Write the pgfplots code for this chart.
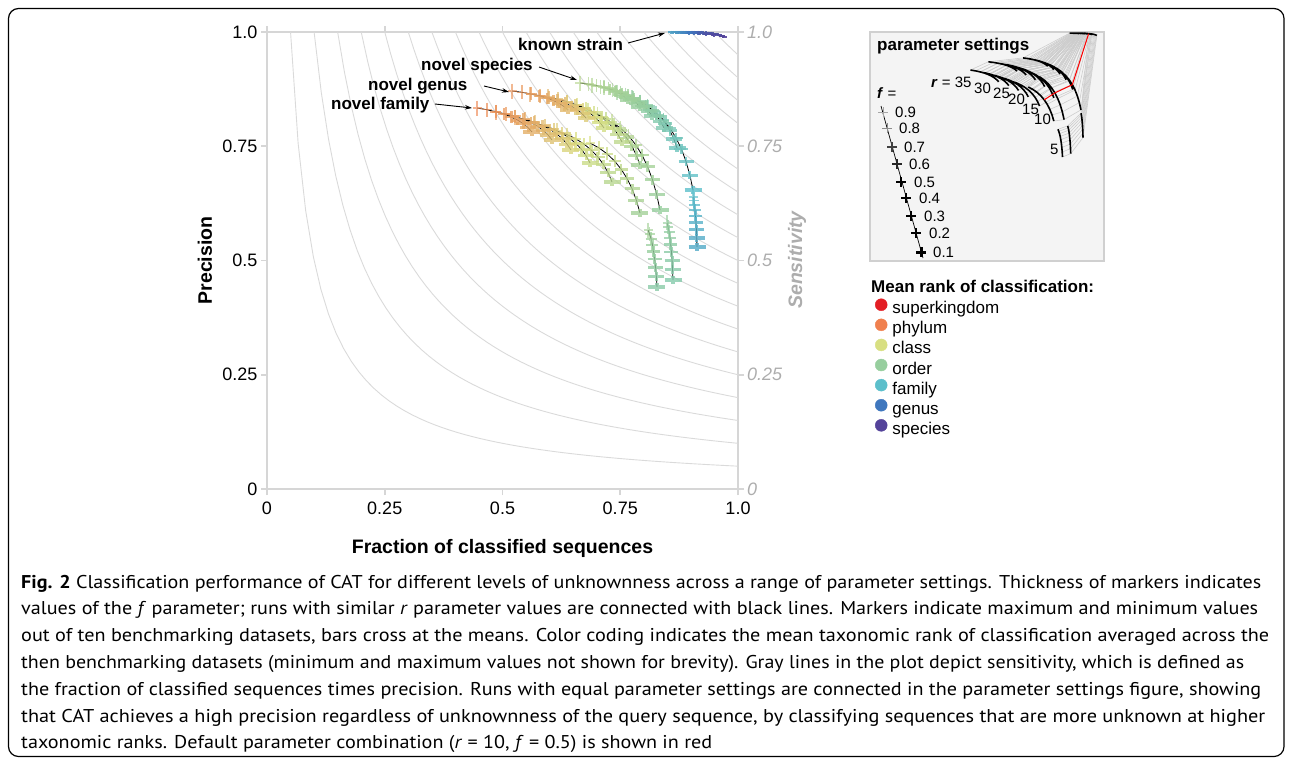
\documentclass[border=0pt]{standalone}
\usepackage{fontspec}
\setmainfont{Liberation Sans}
\newfontfamily\capfont{PT Sans}
\usepackage{graphicx}
\usepackage{pgfplots}
\pgfplotsset{compat=1.18}
\usepackage{pgfplotstable}
\usetikzlibrary{arrows.meta}
\newcommand\fs[1]{\fontsize{#1}{#1}\selectfont}
\definecolor{axgray}{HTML}{D6D6D6}
\definecolor{isogray}{HTML}{DADADA}
\definecolor{sensgray}{HTML}{ADADAD}
\definecolor{insetfill}{HTML}{F4F4F4}
\definecolor{insetdraw}{HTML}{D0D0D0}
\definecolor{connect}{HTML}{CDCDCD}
\definecolor{cSK}{RGB}{227,30,36}
\definecolor{cPH}{RGB}{240,128,79}
\definecolor{cCL}{RGB}{216,223,130}
\definecolor{cOR}{RGB}{151,206,158}
\definecolor{cFA}{RGB}{92,191,203}
\definecolor{cGE}{RGB}{63,119,190}
\definecolor{cSP}{RGB}{84,67,154}

% r, f, then for each level of unknownness (F novel family, G novel genus,
% S novel species, K known strain): fraction classified, precision, mean rank
\pgfplotstableread{
r f xF yF mF xG yG mG xS yS mS xK yK mK
35 0.9 .4459 .8337 2.10 .5202 .8709 2.20 .6645 .8884 3.50 .8577 1.0000 5.40
35 0.8 .4669 .8300 2.15 .5416 .8680 2.25 .6828 .8858 3.55 .8627 1.0000 5.45
35 0.7 .4860 .8255 2.20 .5611 .8644 2.30 .6996 .8826 3.60 .8672 .9998 5.50
35 0.6 .5033 .8202 2.25 .5787 .8602 2.35 .7147 .8788 3.65 .8713 .9997 5.55
35 0.5 .5188 .8140 2.30 .5945 .8553 2.40 .7283 .8744 3.70 .8750 .9996 5.60
35 0.4 .5325 .8070 2.35 .6084 .8498 2.45 .7402 .8695 3.75 .8783 .9994 5.65
35 0.3 .5444 .7992 2.40 .6205 .8436 2.50 .7506 .8640 3.80 .8811 .9993 5.70
35 0.2 .5544 .7906 2.45 .6307 .8368 2.55 .7593 .8579 3.85 .8835 .9991 5.75
35 0.1 .5626 .7812 2.50 .6391 .8293 2.60 .7665 .8512 3.90 .8854 .9989 5.80
nan nan nan nan nan nan nan nan nan nan nan nan nan nan
30 0.9 .4862 .8249 2.20 .5584 .8643 2.40 .6900 .8840 3.60 .8684 1.0000 5.60
30 0.8 .5076 .8206 2.26 .5798 .8606 2.45 .7083 .8806 3.65 .8734 .9998 5.65
30 0.7 .5271 .8153 2.33 .5993 .8561 2.50 .7250 .8765 3.70 .8779 .9997 5.70
30 0.6 .5447 .8091 2.39 .6169 .8508 2.55 .7402 .8716 3.75 .8820 .9994 5.75
30 0.5 .5605 .8019 2.45 .6327 .8446 2.60 .7537 .8660 3.80 .8857 .9992 5.80
30 0.4 .5744 .7938 2.51 .6466 .8376 2.65 .7656 .8596 3.85 .8889 .9989 5.85
30 0.3 .5865 .7847 2.58 .6587 .8298 2.70 .7760 .8524 3.90 .8917 .9986 5.90
30 0.2 .5967 .7747 2.64 .6689 .8212 2.75 .7847 .8445 3.95 .8941 .9982 5.95
30 0.1 .6051 .7637 2.70 .6773 .8118 2.80 .7919 .8359 4.00 .8960 .9978 6.00
nan nan nan nan nan nan nan nan nan nan nan nan nan nan
25 0.9 .5265 .8140 2.40 .5966 .8578 2.60 .7155 .8775 3.70 .8790 1.0000 5.80
25 0.8 .5479 .8089 2.46 .6180 .8530 2.66 .7338 .8732 3.76 .8840 .9998 5.85
25 0.7 .5674 .8027 2.53 .6375 .8472 2.73 .7505 .8679 3.83 .8885 .9997 5.90
25 0.6 .5850 .7954 2.59 .6551 .8403 2.79 .7657 .8617 3.89 .8926 .9994 5.95
25 0.5 .6008 .7869 2.65 .6709 .8323 2.85 .7792 .8545 3.95 .8963 .9992 6.00
25 0.4 .6147 .7773 2.71 .6848 .8233 2.91 .7911 .8464 4.01 .8995 .9989 6.05
25 0.3 .6268 .7666 2.78 .6969 .8132 2.98 .8015 .8373 4.08 .9023 .9986 6.10
25 0.2 .6370 .7548 2.84 .7071 .8021 3.04 .8102 .8272 4.14 .9047 .9982 6.15
25 0.1 .6454 .7418 2.90 .7155 .7899 3.10 .8174 .8162 4.20 .9066 .9978 6.20
nan nan nan nan nan nan nan nan nan nan nan nan nan nan
20 0.9 .5690 .8009 2.60 .6369 .8468 2.90 .7431 .8687 3.90 .8896 1.0000 6.00
20 0.8 .5900 .7947 2.68 .6579 .8406 2.96 .7610 .8632 3.96 .8949 .9998 6.06
20 0.7 .6092 .7872 2.75 .6771 .8331 3.03 .7774 .8564 4.03 .8998 .9995 6.13
20 0.6 .6265 .7783 2.83 .6944 .8242 3.09 .7922 .8484 4.09 .9042 .9991 6.19
20 0.5 .6420 .7680 2.90 .7099 .8140 3.15 .8055 .8391 4.15 .9082 .9988 6.25
20 0.4 .6557 .7564 2.98 .7236 .8024 3.21 .8172 .8287 4.21 .9116 .9983 6.31
20 0.3 .6676 .7434 3.05 .7355 .7894 3.28 .8273 .8170 4.28 .9147 .9978 6.38
20 0.2 .6776 .7290 3.13 .7455 .7750 3.34 .8359 .8041 4.34 .9172 .9973 6.44
20 0.1 .6858 .7133 3.20 .7537 .7593 3.40 .8429 .7899 4.40 .9193 .9967 6.50
nan nan nan nan nan nan nan nan nan nan nan nan nan nan
15 0.9 .6157 .7834 2.80 .6815 .8293 3.20 .7749 .8556 4.10 .9023 1.0000 6.20
15 0.8 .6367 .7756 2.89 .7013 .8208 3.28 .7921 .8479 4.18 .9077 .9997 6.26
15 0.7 .6559 .7660 2.98 .7195 .8105 3.35 .8078 .8385 4.25 .9125 .9993 6.33
15 0.6 .6732 .7546 3.06 .7358 .7983 3.43 .8220 .8274 4.33 .9170 .9989 6.39
15 0.5 .6887 .7415 3.15 .7505 .7842 3.50 .8347 .8146 4.40 .9209 .9983 6.45
15 0.4 .7024 .7267 3.24 .7634 .7682 3.58 .8459 .8000 4.48 .9244 .9978 6.51
15 0.3 .7143 .7102 3.33 .7747 .7503 3.65 .8556 .7838 4.55 .9274 .9971 6.58
15 0.2 .7243 .6919 3.41 .7841 .7306 3.73 .8638 .7659 4.63 .9300 .9964 6.64
15 0.1 .7325 .6718 3.50 .7919 .7090 3.80 .8705 .7462 4.70 .9321 .9956 6.70
nan nan nan nan nan nan nan nan nan nan nan nan nan nan
10 0.9 .6858 .7571 3.00 .7325 .8031 3.40 .8089 .8359 4.30 .9151 1.0000 6.40
10 0.8 .7049 .7463 3.10 .7508 .7896 3.48 .8261 .8231 4.39 .9212 .9995 6.46
10 0.7 .7223 .7332 3.20 .7675 .7730 3.55 .8418 .8075 4.48 .9268 .9990 6.53
10 0.6 .7380 .7176 3.30 .7827 .7534 3.63 .8560 .7891 4.56 .9318 .9983 6.59
10 0.5 .7521 .6996 3.40 .7962 .7309 3.70 .8687 .7678 4.65 .9363 .9975 6.65
10 0.4 .7645 .6793 3.50 .8081 .7053 3.78 .8799 .7437 4.74 .9403 .9966 6.71
10 0.3 .7753 .6566 3.60 .8185 .6767 3.85 .8896 .7167 4.83 .9437 .9957 6.78
10 0.2 .7844 .6314 3.70 .8272 .6451 3.93 .8978 .6869 4.91 .9466 .9946 6.84
10 0.1 .7919 .6039 3.80 .8344 .6105 4.00 .9045 .6543 5.00 .9490 .9934 6.90
nan nan nan nan nan nan nan nan nan nan nan nan nan nan
5 0.9 .8089 .5667 3.80 .8493 .5821 4.00 .9045 .6389 5.00 .9363 .9978 6.60
5 0.8 .8123 .5579 3.85 .8516 .5733 4.04 .9060 .6312 5.04 .9424 .9972 6.65
5 0.7 .8155 .5472 3.90 .8537 .5626 4.08 .9074 .6218 5.08 .9480 .9964 6.70
5 0.6 .8183 .5346 3.95 .8556 .5499 4.11 .9087 .6107 5.11 .9530 .9956 6.75
5 0.5 .8208 .5199 4.00 .8572 .5353 4.15 .9098 .5979 5.15 .9576 .9945 6.80
5 0.4 .8231 .5034 4.05 .8587 .5187 4.19 .9108 .5833 5.19 .9615 .9934 6.85
5 0.3 .8250 .4849 4.10 .8600 .5002 4.23 .9117 .5671 5.23 .9650 .9921 6.90
5 0.2 .8267 .4644 4.15 .8611 .4797 4.26 .9124 .5492 5.26 .9679 .9907 6.95
5 0.1 .8280 .4420 4.20 .8620 .4573 4.30 .9130 .5295 5.30 .9703 .9891 7.00
}\data

\pgfplotsset{
  fA/.style={restrict expr to domain={\thisrow{f}}{0.85:0.95}, mark options={xscale=4.5,yscale=7.5,line width=1.3pt,opacity=0.65}},
  fB/.style={restrict expr to domain={\thisrow{f}}{0.75:0.85}, mark options={xscale=5,yscale=7,line width=1.6pt,opacity=0.7}},
  fC/.style={restrict expr to domain={\thisrow{f}}{0.65:0.75}, mark options={xscale=5.5,yscale=6.5,line width=1.9pt,opacity=0.75}},
  fD/.style={restrict expr to domain={\thisrow{f}}{0.55:0.65}, mark options={xscale=6,yscale=6,line width=2.2pt,opacity=0.75}},
  fE/.style={restrict expr to domain={\thisrow{f}}{0.45:0.55}, mark options={xscale=6.5,yscale=5.6,line width=2.5pt,opacity=0.8}},
  fF/.style={restrict expr to domain={\thisrow{f}}{0.35:0.45}, mark options={xscale=7,yscale=5.2,line width=2.7pt,opacity=0.8}},
  fG/.style={restrict expr to domain={\thisrow{f}}{0.25:0.35}, mark options={xscale=7.5,yscale=4.8,line width=2.9pt,opacity=0.8}},
  fH/.style={restrict expr to domain={\thisrow{f}}{0.15:0.25}, mark options={xscale=8,yscale=4.4,line width=3.1pt,opacity=0.8}},
  fI/.style={restrict expr to domain={\thisrow{f}}{0.05:0.15}, mark options={xscale=8.5,yscale=4,line width=3.3pt,opacity=0.8}},
}
\newcommand\crosses[4]{\addplot[forget plot, scatter, scatter/use mapped color={draw=mapped color, fill=mapped color}, only marks, mark=+, mark size=1pt, point meta=explicit, #4] table[x=#1,y=#2,meta=#3]{\data};}

\begin{document}
\begin{tikzpicture}
\path[use as bounding box] (0pt,0pt) rectangle (1292pt,-764pt);

% ---------------- main chart ----------------
\begin{axis}[
  name=main, scale only axis, width=471pt, height=457pt,
  at={(267pt,-489pt)}, anchor=south west,
  xmin=0, xmax=1, ymin=0, ymax=1, clip=false,
  axis line style={draw=axgray, line width=1.6pt},
  xtick={0,0.25,0.5,0.75,1}, xticklabels={0,0.25,0.5,0.75,1.0},
  ytick={0,0.25,0.5,0.75,1}, yticklabels={0,0.25,0.5,0.75,1.0},
  xtick pos=both, ytick pos=both, xticklabel pos=lower, yticklabel pos=left,
  tick align=outside, major tick length=6pt,
  tick style={draw=axgray, line width=1.6pt},
  tick label style={font=\fs{18}, text=black},
  xticklabel style={yshift=-3pt},
  xlabel={Fraction of classified sequences},
  ylabel={Precision},
  xlabel style={font=\bfseries\fs{19.5}, at={(axis description cs:0.5,-0.1291)}, anchor=center},
  ylabel style={font=\bfseries\fs{19.5}, at={(axis description cs:-0.1316,0.5)}, anchor=center},
  colormap={rank}{rgb255=(227,30,36) rgb255=(240,128,79) rgb255=(216,223,130) rgb255=(151,206,158) rgb255=(92,191,203) rgb255=(63,119,190) rgb255=(84,67,154)},
  point meta min=1, point meta max=7,
  legend style={at={(axis description cs:1.2909,0.4168)}, anchor=north west, draw=none, fill=none,
    inner sep=0pt, outer sep=0pt, row sep=1.4pt, column sep=5pt, font=\fs{17},
    nodes={inner sep=0pt, text height=12.5pt, text depth=3.5pt}},
  legend cell align=left,
]
\addlegendimage{legend image code/.code={\fill[cSK] (0pt,4.5pt) circle (6pt);}}
\addlegendentry{superkingdom}
\addlegendimage{legend image code/.code={\fill[cPH] (0pt,4.5pt) circle (6pt);}}
\addlegendentry{phylum}
\addlegendimage{legend image code/.code={\fill[cCL] (0pt,4.5pt) circle (6pt);}}
\addlegendentry{class}
\addlegendimage{legend image code/.code={\fill[cOR] (0pt,4.5pt) circle (6pt);}}
\addlegendentry{order}
\addlegendimage{legend image code/.code={\fill[cFA] (0pt,4.5pt) circle (6pt);}}
\addlegendentry{family}
\addlegendimage{legend image code/.code={\fill[cGE] (0pt,4.5pt) circle (6pt);}}
\addlegendentry{genus}
\addlegendimage{legend image code/.code={\fill[cSP] (0pt,4.5pt) circle (6pt);}}
\addlegendentry{species}

% sensitivity isolines: fraction x precision = constant
\pgfplotsinvokeforeach{0.05,0.1,0.15,0.2,0.25,0.3,0.35,0.4,0.45,0.5,0.55,0.6,0.65,0.7,0.75,0.8,0.85,0.9,0.95}{
  \addplot[forget plot, isogray, line width=0.9pt, domain=#1:1, samples=60] {#1/x};
}

% min/max crosses, coloured by mean rank, thickness by f
\pgfplotsinvokeforeach{fA,fB,fC,fD,fE,fF,fG,fH,fI}{\crosses{xF}{yF}{mF}{#1}}
\pgfplotsinvokeforeach{fA,fB,fC,fD,fE,fF,fG,fH,fI}{\crosses{xG}{yG}{mG}{#1}}
\pgfplotsinvokeforeach{fA,fB,fC,fD,fE,fF,fG,fH,fI}{\crosses{xS}{yS}{mS}{#1}}
\pgfplotsinvokeforeach{fA,fB,fC,fD,fE,fF,fG,fH,fI}{\crosses{xK}{yK}{mK}{#1, mark options={xscale=2.5,yscale=1.5,line width=1.8pt,opacity=0.9}}}

% runs with the same r connected
\addplot[forget plot, black, line width=0.8pt, unbounded coords=jump] table[x=xF,y=yF]{\data};
\addplot[forget plot, black, line width=0.8pt, unbounded coords=jump] table[x=xG,y=yG]{\data};
\addplot[forget plot, black, line width=0.8pt, unbounded coords=jump] table[x=xS,y=yS]{\data};
\addplot[forget plot, black, line width=1.2pt, unbounded coords=jump] table[x=xK,y=yK]{\data};
\end{axis}

\begin{scope}[x=1pt,y=-1pt]
% frame
\draw[line width=1.2pt, rounded corners=10pt] (8.5,8.5) rectangle (1284,756.5);
% right (sensitivity) labels
\foreach \v/\py in {1.0/32, 0.75/146.25, 0.5/260.5, 0.25/374.75, 0/489}{
  \node[anchor=west, inner sep=0pt, font=\itshape\fs{18}, text=sensgray] at (747,\py) {\v};
}
\node[rotate=90, font=\bfseries\itshape\fs{19.5}, text=sensgray] at (797,260) {Sensitivity};
% annotations
\node[anchor=base west, inner sep=0pt, font=\bfseries\fs{17}] at (518,50) {known strain};
\node[anchor=base west, inner sep=0pt, font=\bfseries\fs{17}] at (421,70) {novel species};
\node[anchor=base west, inner sep=0pt, font=\bfseries\fs{17}] at (368,90) {novel genus};
\node[anchor=base west, inner sep=0pt, font=\bfseries\fs{17}] at (331,109) {novel family};
\draw[-{Stealth[length=7pt,width=4.5pt]}, line width=0.9pt] (628,43) -- (665,33);
\draw[-{Stealth[length=7pt,width=4.5pt]}, line width=0.9pt] (539,67) -- (577,80);
\draw[-{Stealth[length=7pt,width=4.5pt]}, line width=0.9pt] (484,86) -- (509,92);
\draw[-{Stealth[length=7pt,width=4.5pt]}, line width=0.9pt] (435,104) -- (472,108);
% legend title
\node[anchor=base west, inner sep=0pt, font=\bfseries\fs{17}] at (871,292) {Mean rank of classification:};
% inset box
\draw[fill=insetfill, draw=insetdraw, line width=1.5pt] (870,32) rectangle (1104,261);
\end{scope}

% ---------------- inset: parameter settings ----------------
\begin{axis}[
  scale only axis, width=234pt, height=229pt,
  at={(870pt,-261pt)}, anchor=south west,
  xmin=0.0292, xmax=1.0001, ymin=-0.0265, ymax=1.0051,
  hide axis, clip=false,
]
\addplot[forget plot, connect, line width=0.6pt, quiver={u=\thisrow{xG}-\thisrow{xF}, v=\thisrow{yG}-\thisrow{yF}}] table[x=xF,y=yF]{\data};
\addplot[forget plot, connect, line width=0.6pt, quiver={u=\thisrow{xS}-\thisrow{xG}, v=\thisrow{yS}-\thisrow{yG}}] table[x=xG,y=yG]{\data};
\addplot[forget plot, connect, line width=0.6pt, quiver={u=\thisrow{xK}-\thisrow{xS}, v=\thisrow{yK}-\thisrow{yS}}] table[x=xS,y=yS]{\data};
\addplot[forget plot, black, line width=1.6pt, unbounded coords=jump] table[x=xF,y=yF]{\data};
\addplot[forget plot, black, line width=1.6pt, unbounded coords=jump] table[x=xG,y=yG]{\data};
\addplot[forget plot, black, line width=1.6pt, unbounded coords=jump] table[x=xS,y=yS]{\data};
\addplot[forget plot, black, line width=1.6pt, unbounded coords=jump] table[x=xK,y=yK]{\data};
% default parameter combination r = 10, f = 0.5
\addplot[forget plot, red, line width=1pt, restrict expr to domain={\thisrow{r}+\thisrow{f}}{10.45:10.55}, quiver={u=\thisrow{xG}-\thisrow{xF}, v=\thisrow{yG}-\thisrow{yF}}] table[x=xF,y=yF]{\data};
\addplot[forget plot, red, line width=1pt, restrict expr to domain={\thisrow{r}+\thisrow{f}}{10.45:10.55}, quiver={u=\thisrow{xS}-\thisrow{xG}, v=\thisrow{yS}-\thisrow{yG}}] table[x=xG,y=yG]{\data};
\addplot[forget plot, red, line width=1pt, restrict expr to domain={\thisrow{r}+\thisrow{f}}{10.45:10.55}, quiver={u=\thisrow{xK}-\thisrow{xS}, v=\thisrow{yK}-\thisrow{yS}}] table[x=xS,y=yS]{\data};
\end{axis}

% f legend inside the inset (coordinates in picture units)
\begin{axis}[
  scale only axis, width=234pt, height=229pt,
  at={(870pt,-261pt)}, anchor=south west,
  xmin=870, xmax=1104, ymin=32, ymax=261, y dir=reverse,
  hide axis, clip=false,
]
\addplot[forget plot, black, line width=0.7pt] coordinates {(881,106) (923,258)};
\addplot[forget plot, only marks, mark=+, mark size=5pt, line width=0.6pt, color=black!35] coordinates {(883,112)};
\addplot[forget plot, only marks, mark=+, mark size=5pt, line width=0.9pt, color=black!45] coordinates {(887,128)};
\addplot[forget plot, only marks, mark=+, mark size=5pt, line width=1.2pt, color=black!75] coordinates {(892,147)};
\addplot[forget plot, only marks, mark=+, mark size=5pt, line width=1.5pt, color=black!85] coordinates {(897,164)};
\addplot[forget plot, only marks, mark=+, mark size=5pt, line width=1.8pt, color=black] coordinates {(901,182)};
\addplot[forget plot, only marks, mark=+, mark size=5pt, line width=2.1pt, color=black] coordinates {(906,198)};
\addplot[forget plot, only marks, mark=+, mark size=5pt, line width=2.4pt, color=black] coordinates {(911,216)};
\addplot[forget plot, only marks, mark=+, mark size=5pt, line width=2.7pt, color=black] coordinates {(916,233)};
\addplot[forget plot, only marks, mark=+, mark size=5pt, line width=3pt, color=black] coordinates {(921,252)};
\end{axis}

\begin{scope}[x=1pt,y=-1pt]
\node[anchor=base west, inner sep=0pt, font=\bfseries\fs{17}] at (877,50) {parameter settings};
\node[anchor=base west, inner sep=0pt, font=\fs{15}] at (877,98) {\textbf{\textit{f}} =};
\node[anchor=base west, inner sep=0pt, font=\fs{15}] at (931,87) {\textbf{\textit{r}} = 35};
\node[anchor=base west, inner sep=0pt, font=\fs{15}] at (974,93) {30};
\node[anchor=base west, inner sep=0pt, font=\fs{15}] at (993,98) {25};
\node[anchor=base west, inner sep=0pt, font=\fs{15}] at (1008,104) {20};
\node[anchor=base west, inner sep=0pt, font=\fs{15}] at (1022,114) {15};
\node[anchor=base west, inner sep=0pt, font=\fs{15}] at (1034,124) {10};
\node[anchor=base west, inner sep=0pt, font=\fs{15}] at (1050,154) {5};
\foreach \v/\lx/\ly in {0.9/895/117, 0.8/899/133, 0.7/904/152, 0.6/909/169, 0.5/914/187, 0.4/919/203, 0.3/924/221, 0.2/929/238, 0.1/933/257}{
  \node[anchor=base west, inner sep=0pt, font=\fs{15}] at (\lx,\ly) {\v};
}
% caption
\begin{scope}[every node/.style={anchor=base west, inner sep=0pt, font=\capfont\fs{18.5}}]
\node at (21,588) {\resizebox{1240pt}{\height}{\textbf{Fig. 2} Classification performance of CAT for different levels of unknownness across a range of parameter settings. Thickness of markers indicates}};
\node at (21,614.8) {\resizebox{1237pt}{\height}{values of the \textit{f} parameter; runs with similar \textit{r} parameter values are connected with black lines. Markers indicate maximum and minimum values}};
\node at (21,641.6) {\resizebox{1248pt}{\height}{out of ten benchmarking datasets, bars cross at the means. Color coding indicates the mean taxonomic rank of classification averaged across the}};
\node at (21,668.4) {\resizebox{1223pt}{\height}{then benchmarking datasets (minimum and maximum values not shown for brevity). Gray lines in the plot depict sensitivity, which is defined as}};
\node at (21,695.2) {\resizebox{1240pt}{\height}{the fraction of classified sequences times precision. Runs with equal parameter settings are connected in the parameter settings figure, showing}};
\node at (21,722) {\resizebox{1244pt}{\height}{that CAT achieves a high precision regardless of unknownness of the query sequence, by classifying sequences that are more unknown at higher}};
\node at (21,748.8) {\resizebox{691pt}{\height}{taxonomic ranks. Default parameter combination (\textit{r} = 10, \textit{f} = 0.5) is shown in red}};
\end{scope}
\end{scope}
\end{tikzpicture}
\end{document}
